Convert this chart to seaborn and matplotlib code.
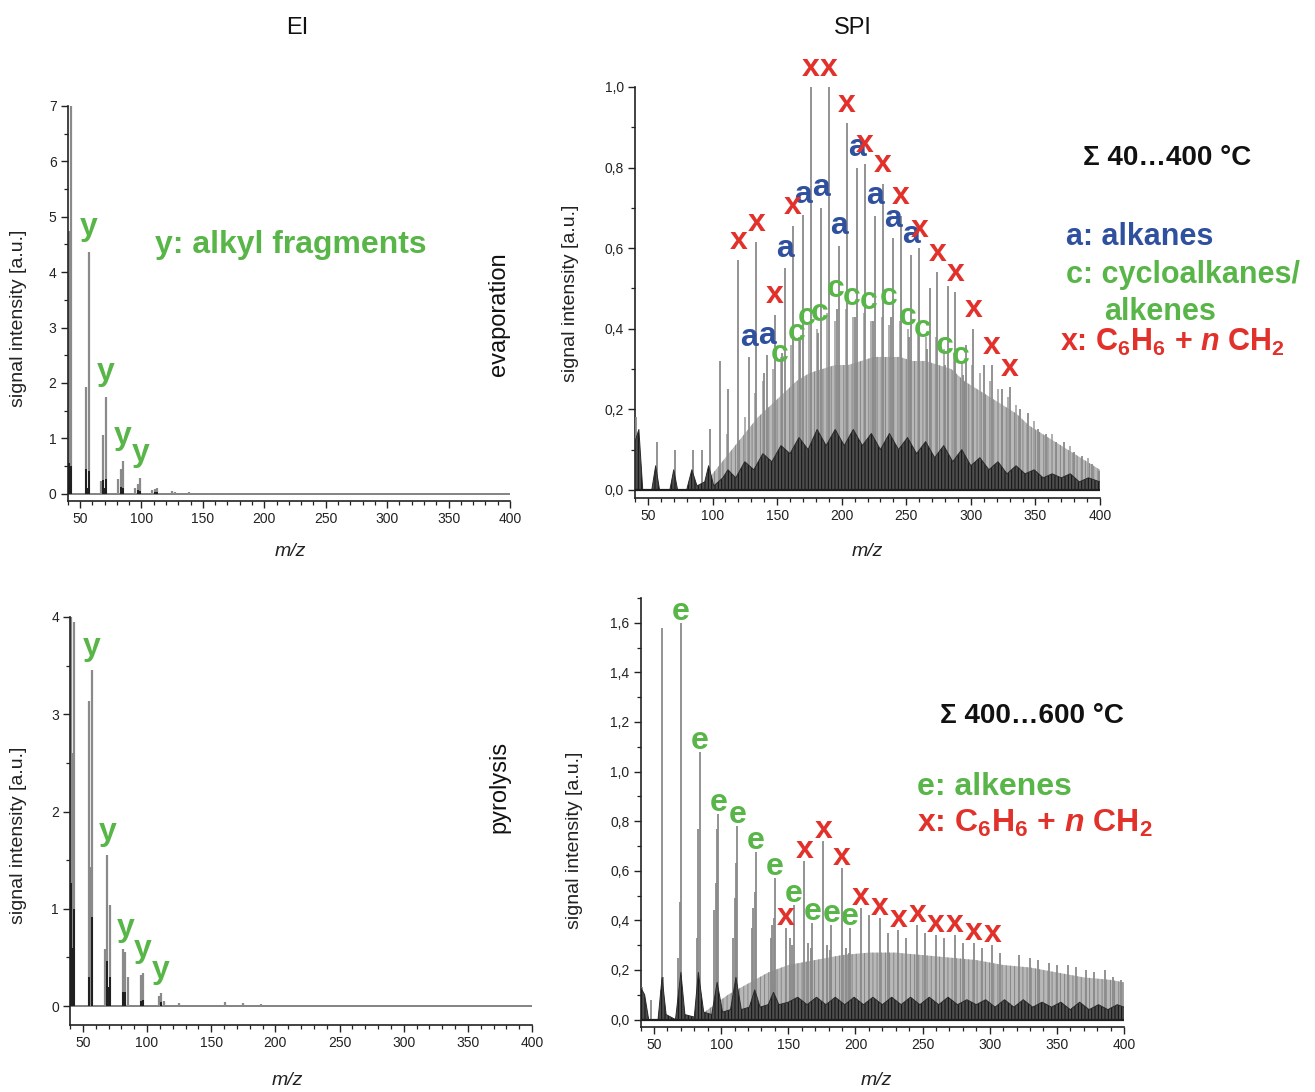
import matplotlib
matplotlib.use("Agg")
import matplotlib.pyplot as plt
import seaborn as sns
from matplotlib.ticker import MultipleLocator, FuncFormatter

W, H = 1315, 1092

GREEN = "#58b547"
BLUE = "#2f4f9f"
RED = "#e2312b"
GREY = "#8a8a8a"
DARK = "#1e1e1e"

# ---------------- EI, evaporation (top left) ----------------
ei_evap_mz = [41, 43, 55, 57, 67, 69, 71, 81, 83, 85, 95, 97, 99, 109, 111, 113, 125, 127, 139, 155, 169]
ei_evap_int = [4.75, 7.0, 1.92, 4.37, 0.24, 1.06, 1.74, 0.27, 0.45, 0.59, 0.10, 0.18, 0.29,
               0.06, 0.09, 0.10, 0.05, 0.04, 0.03, 0.02, 0.02]
ei_evap_dark_mz = [41, 42, 43, 55, 56, 57, 69, 70, 71, 83, 85, 97, 99, 111, 113]
ei_evap_dark_int = [0.55, 0.20, 0.50, 0.45, 0.10, 0.42, 0.25, 0.10, 0.26, 0.12, 0.10, 0.06, 0.05, 0.04, 0.03]
ei_evap_y_mz = [57, 71, 85, 99]

# ---------------- EI, pyrolysis (bottom left) ----------------
ei_pyro_mz = [41, 42, 43, 55, 56, 57, 67, 69, 71, 81, 83, 85, 95, 97, 109, 111, 113, 125, 161, 175, 189]
ei_pyro_int = [4.0, 2.6, 3.95, 3.14, 1.43, 3.45, 0.59, 1.55, 1.04, 0.59, 0.56, 0.30, 0.32, 0.34,
               0.10, 0.13, 0.05, 0.03, 0.04, 0.03, 0.02]
ei_pyro_dark_mz = [41, 42, 43, 55, 57, 69, 70, 71, 81, 83, 95, 97, 111]
ei_pyro_dark_int = [1.27, 0.60, 1.00, 0.30, 0.92, 0.46, 0.20, 0.30, 0.14, 0.14, 0.05, 0.06, 0.04]
ei_pyro_y_mz = [57, 69, 83, 97, 111]

# ---------------- SPI, evaporation (top right) ----------------
spi_evap_x_mz = [120, 134, 148, 162, 176, 190, 204, 218, 232, 246, 260, 274, 288, 302, 316, 330]
spi_evap_x_int = [0.57, 0.615, 0.435, 0.656, 1.0, 1.0, 0.91, 0.81, 0.76, 0.68, 0.60, 0.54, 0.49,
                  0.40, 0.31, 0.255]
spi_evap_a_mz = [128, 142, 156, 170, 184, 198, 212, 226, 240, 254]
spi_evap_a_int = [0.33, 0.335, 0.55, 0.683, 0.70, 0.606, 0.80, 0.68, 0.625, 0.584]
spi_evap_c_mz = [140, 154, 168, 182, 196, 210, 224, 238, 252, 266, 280, 294]
spi_evap_c_int = [0.29, 0.34, 0.38, 0.39, 0.45, 0.43, 0.42, 0.43, 0.38, 0.35, 0.31, 0.285]
spi_evap_c_shift = [12, 11, 5, 1, -1, -2, -3, -2, -1, -3, 0, -2]
spi_evap_other_mz = [41, 43, 57, 71, 85, 92, 98, 106, 112, 268, 282, 296, 310, 324, 338, 344,
                     352, 358, 366, 372, 380, 386, 394, 399]
spi_evap_other_int = [0.18, 0.13, 0.12, 0.10, 0.10, 0.10, 0.15, 0.32, 0.25, 0.50, 0.505, 0.36,
                      0.31, 0.25, 0.20, 0.19, 0.15, 0.14, 0.12, 0.12, 0.093, 0.085, 0.064, 0.048]
spi_evap_mid_mz = [111, 125, 133, 139, 147, 153, 161, 167, 175, 181, 189, 195, 203, 209, 217,
                   223, 231, 237, 245, 251, 259, 265, 273, 279, 287, 293, 301, 307, 315, 321,
                   329, 335, 349, 363, 377, 391]
spi_evap_mid_int = [0.14, 0.18, 0.24, 0.27, 0.30, 0.33, 0.36, 0.38, 0.41, 0.40, 0.44, 0.42, 0.45,
                    0.43, 0.44, 0.42, 0.43, 0.41, 0.42, 0.40, 0.40, 0.38, 0.38, 0.35, 0.34, 0.32,
                    0.31, 0.29, 0.27, 0.25, 0.23, 0.21, 0.17, 0.14, 0.11, 0.08]
spi_evap_haze_mz = [95, 105, 115, 125, 135, 145, 155, 165, 175, 185, 195, 205, 215, 225, 235, 245,
                    255, 265, 275, 285, 295, 305, 315, 325, 335, 345, 355, 365, 375, 385, 395, 400]
spi_evap_haze_int = [0.02, 0.06, 0.10, 0.14, 0.18, 0.21, 0.24, 0.27, 0.29, 0.30, 0.31, 0.31, 0.32,
                     0.33, 0.33, 0.33, 0.32, 0.32, 0.31, 0.30, 0.27, 0.25, 0.23, 0.21, 0.19, 0.16,
                     0.14, 0.12, 0.10, 0.08, 0.06, 0.05]
spi_evap_band_mz = [40, 43, 46, 53, 56, 59, 67, 70, 73, 80, 84, 88, 94, 97, 101, 108, 112, 118,
                    125, 132, 139, 146, 153, 160, 167, 174, 181, 188, 195, 202, 209, 216, 223,
                    230, 237, 244, 251, 258, 265, 272, 279, 286, 293, 300, 307, 314, 321, 328,
                    335, 342, 349, 356, 363, 370, 377, 384, 391, 400]
spi_evap_band_int = [0.12, 0.15, 0.0, 0.0, 0.06, 0.0, 0.0, 0.05, 0.0, 0.0, 0.05, 0.01, 0.02, 0.06,
                     0.01, 0.03, 0.05, 0.03, 0.07, 0.05, 0.09, 0.07, 0.11, 0.09, 0.13, 0.10, 0.15,
                     0.11, 0.15, 0.11, 0.15, 0.11, 0.14, 0.10, 0.14, 0.10, 0.13, 0.09, 0.12, 0.08,
                     0.11, 0.07, 0.10, 0.06, 0.08, 0.05, 0.07, 0.04, 0.06, 0.04, 0.05, 0.03, 0.04,
                     0.03, 0.04, 0.02, 0.03, 0.02]

# ---------------- SPI, pyrolysis (bottom right) ----------------
spi_pyro_e_mz = [70, 84, 98, 112, 126, 140, 154, 168, 182, 196]
spi_pyro_e_int = [1.60, 1.08, 0.83, 0.78, 0.676, 0.57, 0.46, 0.39, 0.38, 0.37]
spi_pyro_x_mz = [148, 162, 176, 190, 204, 218, 232, 246, 260, 274, 288, 302]
spi_pyro_x_int = [0.37, 0.64, 0.72, 0.61, 0.45, 0.41, 0.36, 0.38, 0.34, 0.34, 0.31, 0.30]
spi_pyro_other_mz = [41, 43, 48, 55, 56, 57, 68, 69, 82, 83, 95, 96, 97, 109, 110, 111, 123, 124,
                     125, 137, 138, 139, 151, 153, 165, 167, 179, 181, 193, 195, 210, 224, 238,
                     252, 266, 280, 294, 308, 322, 330, 336, 344, 350, 358, 364, 372, 378, 386,
                     392, 398]
spi_pyro_other_int = [0.13, 0.08, 0.08, 0.12, 1.58, 0.17, 0.25, 0.475, 0.33, 0.77, 0.44, 0.55,
                      0.77, 0.33, 0.49, 0.63, 0.37, 0.45, 0.515, 0.33, 0.38, 0.41, 0.33, 0.30,
                      0.31, 0.29, 0.30, 0.28, 0.29, 0.27, 0.42, 0.35, 0.33, 0.35, 0.33, 0.31,
                      0.29, 0.27, 0.26, 0.25, 0.24, 0.23, 0.22, 0.22, 0.21, 0.20, 0.19, 0.20,
                      0.17, 0.16]
spi_pyro_haze_mz = [85, 95, 105, 115, 125, 135, 150, 170, 190, 210, 230, 250, 270, 290, 310, 330,
                    350, 370, 390, 400]
spi_pyro_haze_int = [0.02, 0.06, 0.10, 0.13, 0.16, 0.19, 0.22, 0.24, 0.26, 0.27, 0.27, 0.26,
                     0.25, 0.24, 0.22, 0.21, 0.19, 0.17, 0.16, 0.15]
spi_pyro_band_mz = [40, 43, 46, 53, 56, 59, 66, 70, 73, 80, 83, 87, 93, 97, 101, 107, 111, 115,
                    121, 125, 129, 135, 139, 143, 150, 157, 164, 171, 178, 185, 192, 199, 206,
                    213, 220, 227, 234, 241, 248, 255, 262, 269, 276, 283, 290, 297, 304, 311,
                    318, 325, 332, 339, 346, 353, 360, 367, 374, 381, 388, 395, 400]
spi_pyro_band_int = [0.13, 0.10, 0.0, 0.0, 0.17, 0.02, 0.0, 0.19, 0.02, 0.01, 0.19, 0.03, 0.02,
                     0.15, 0.03, 0.04, 0.17, 0.04, 0.05, 0.12, 0.05, 0.06, 0.11, 0.06, 0.07,
                     0.09, 0.06, 0.09, 0.06, 0.09, 0.06, 0.09, 0.06, 0.09, 0.06, 0.09, 0.06,
                     0.09, 0.06, 0.09, 0.06, 0.09, 0.06, 0.08, 0.06, 0.08, 0.05, 0.08, 0.05,
                     0.08, 0.05, 0.07, 0.05, 0.07, 0.04, 0.07, 0.04, 0.06, 0.04, 0.06, 0.05]


def comma_fmt(v, pos):
    return f"{v:.1f}".replace(".", ",")


def style_axis(ax, ymajor, yminor, comma):
    ax.set_xlim(40, 400)
    ax.xaxis.set_major_locator(MultipleLocator(50))
    ax.xaxis.set_minor_locator(MultipleLocator(10))
    ax.yaxis.set_major_locator(MultipleLocator(ymajor))
    ax.yaxis.set_minor_locator(MultipleLocator(yminor))
    if comma:
        ax.yaxis.set_major_formatter(FuncFormatter(comma_fmt))
    else:
        ax.yaxis.set_major_formatter(FuncFormatter(lambda v, p: f"{v:g}"))
    ax.tick_params(which="major", direction="out", length=5, width=1.0, labelsize=10,
                   colors="#222222", pad=3)
    ax.tick_params(which="minor", direction="out", length=3, width=0.9, colors="#222222")
    sns.despine(ax=ax)
    for side in ("left", "bottom"):
        ax.spines[side].set_linewidth(1.2)
        ax.spines[side].set_color("#222222")
    ax.set_xlabel("m/z", fontsize=14, fontstyle="italic", color="#222222")
    ax.set_ylabel("signal intensity [a.u.]", fontsize=14, color="#222222")
    ax.grid(False)


def tag_peaks(ax, letter, color, mz, height, dy, shift=None, size=23):
    for i, (m, h) in enumerate(zip(mz, height)):
        dx = shift[i] if shift is not None else 0
        ax.annotate(letter, (m + dx, h), xytext=(0, dy), textcoords="offset points",
                    ha="center", va="center", fontsize=size, fontweight="bold",
                    color=color, annotation_clip=False, zorder=6)


def px_rect(left, top, right, bottom):
    return [left / W, 1 - bottom / H, (right - left) / W, (bottom - top) / H]


sns.set_theme(style="ticks")
plt.rcParams["font.family"] = ["Liberation Sans", "DejaVu Sans"]
plt.rcParams["mathtext.fontset"] = "custom"
plt.rcParams["mathtext.rm"] = "Liberation Sans:bold"
plt.rcParams["mathtext.it"] = "Liberation Sans:bold:italic"
plt.rcParams["mathtext.bf"] = "Liberation Sans:bold"
plt.rcParams["hatch.linewidth"] = 0.7

fig = plt.figure(figsize=(W / 100, H / 100), dpi=100)
fig.patch.set_facecolor("white")

ax_tl = fig.add_axes(px_rect(67.7, 106, 510, 501))
ax_tr = fig.add_axes(px_rect(635, 87, 1100, 498))
ax_bl = fig.add_axes(px_rect(70, 617, 532, 1025))
ax_br = fig.add_axes(px_rect(640.6, 598, 1124, 1027))

# --- EI panels
for ax, mz, inten, dmz, dint, ylim, labels, dy, lcoords in [
    (ax_tl, ei_evap_mz, ei_evap_int, ei_evap_dark_mz, ei_evap_dark_int, (-0.13, 7.0),
     ei_evap_y_mz, 18, (-0.092, 0.463)),
    (ax_bl, ei_pyro_mz, ei_pyro_int, ei_pyro_dark_mz, ei_pyro_dark_int, (-0.195, 4.0),
     ei_pyro_y_mz, 17, (-0.093, 0.466)),
]:
    ax.axhline(0, color="#7a7a7a", linewidth=1.3, zorder=1)
    ax.vlines(mz, 0, inten, colors=GREY, linewidth=1.6, zorder=2)
    ax.vlines(dmz, 0, dint, colors=DARK, linewidth=1.4, zorder=3)
    ax.set_ylim(*ylim)
    style_axis(ax, 1, 0.5, comma=False)
    lookup = dict(zip(mz, inten))
    tag_peaks(ax, "y", GREEN, labels, [lookup[m] for m in labels], dy)
    ax.yaxis.set_label_coords(*lcoords)

ax_tl.xaxis.set_label_coords(0.503, -0.106)
ax_bl.xaxis.set_label_coords(0.47, -0.115)

# --- SPI panels
for ax, hmz, hint, bmz, bint, ylim in [
    (ax_tr, spi_evap_haze_mz, spi_evap_haze_int, spi_evap_band_mz, spi_evap_band_int, (-0.02, 1.0)),
    (ax_br, spi_pyro_haze_mz, spi_pyro_haze_int, spi_pyro_band_mz, spi_pyro_band_int, (-0.03, 1.70)),
]:
    ax.fill_between(hmz, 0, hint, facecolor="#b8b8b8", edgecolor="#868686", hatch="||||",
                    linewidth=0, zorder=1)
    ax.fill_between(bmz, 0, bint, facecolor="#4d4d4d", edgecolor="#111111", hatch="|||||",
                    linewidth=0, zorder=4)
    sns.lineplot(x=bmz, y=bint, ax=ax, color="#2a2a2a", linewidth=0.7, zorder=4)
    ax.axhline(0, color=DARK, linewidth=1.6, zorder=4)
    ax.set_ylim(*ylim)
    style_axis(ax, 0.2, 0.1, comma=True)

ax_tr.vlines(spi_evap_mid_mz, 0, spi_evap_mid_int, colors="#9a9a9a", linewidth=1.1, zorder=2)
for mz, inten in [(spi_evap_other_mz, spi_evap_other_int), (spi_evap_c_mz, spi_evap_c_int),
                  (spi_evap_a_mz, spi_evap_a_int), (spi_evap_x_mz, spi_evap_x_int)]:
    ax_tr.vlines(mz, 0, inten, colors=GREY, linewidth=1.3, zorder=3)
tag_peaks(ax_tr, "c", GREEN, spi_evap_c_mz, spi_evap_c_int, 14, shift=spi_evap_c_shift)
tag_peaks(ax_tr, "a", BLUE, spi_evap_a_mz, spi_evap_a_int, 14)
tag_peaks(ax_tr, "x", RED, spi_evap_x_mz, spi_evap_x_int, 14)
ax_tr.yaxis.set_label_coords(-0.120, 0.499)
ax_tr.xaxis.set_label_coords(0.50, -0.109)

for mz, inten in [(spi_pyro_other_mz, spi_pyro_other_int), (spi_pyro_e_mz, spi_pyro_e_int),
                  (spi_pyro_x_mz, spi_pyro_x_int)]:
    ax_br.vlines(mz, 0, inten, colors=GREY, linewidth=1.3, zorder=3)
tag_peaks(ax_br, "e", GREEN, spi_pyro_e_mz, spi_pyro_e_int, 8)
tag_peaks(ax_br, "x", RED, spi_pyro_x_mz, spi_pyro_x_int, 8)
ax_br.yaxis.set_label_coords(-0.119, 0.436)
ax_br.xaxis.set_label_coords(0.487, -0.105)


# --- titles, side labels and legends (figure pixel positions)
def ftext(x, y, s, **kw):
    fig.text(x / W, 1 - y / H, s, **kw)


ftext(297, 28, "EI", fontsize=17, ha="center", va="center", color="#111111")
ftext(853, 28, "SPI", fontsize=17, ha="center", va="center", color="#111111")
ftext(499, 314, "evaporation", fontsize=17, rotation=90, ha="center", va="center", color="#111111")
ftext(499, 787, "pyrolysis", fontsize=17, rotation=90, ha="center", va="center", color="#111111")

ftext(155, 245, "y: alkyl fragments", fontsize=23, fontweight="bold", color=GREEN, va="center")

ftext(1083, 165, "Σ 40…400 °C", fontsize=20, fontweight="bold", color="#111111", va="baseline")
ftext(1066, 245, "a: alkanes", fontsize=22, fontweight="bold", color=BLUE, va="baseline")
ftext(1066, 283, "c: cycloalkanes/", fontsize=22, fontweight="bold", color=GREEN, va="baseline")
ftext(1104, 320, "alkenes", fontsize=22, fontweight="bold", color=GREEN, va="baseline")
ftext(1060, 351, r"x: C$_6$H$_6$ + $n$ CH$_2$", fontsize=22, fontweight="bold", color=RED,
      va="baseline")

ftext(940, 723, "Σ 400…600 °C", fontsize=20, fontweight="bold", color="#111111", va="baseline")
ftext(917, 795, "e: alkenes", fontsize=23, fontweight="bold", color=GREEN, va="baseline")
ftext(917, 832, r"x: C$_6$H$_6$ + $n$ CH$_2$", fontsize=23, fontweight="bold", color=RED,
      va="baseline")

fig.savefig("out.png", dpi=100, facecolor="white")
